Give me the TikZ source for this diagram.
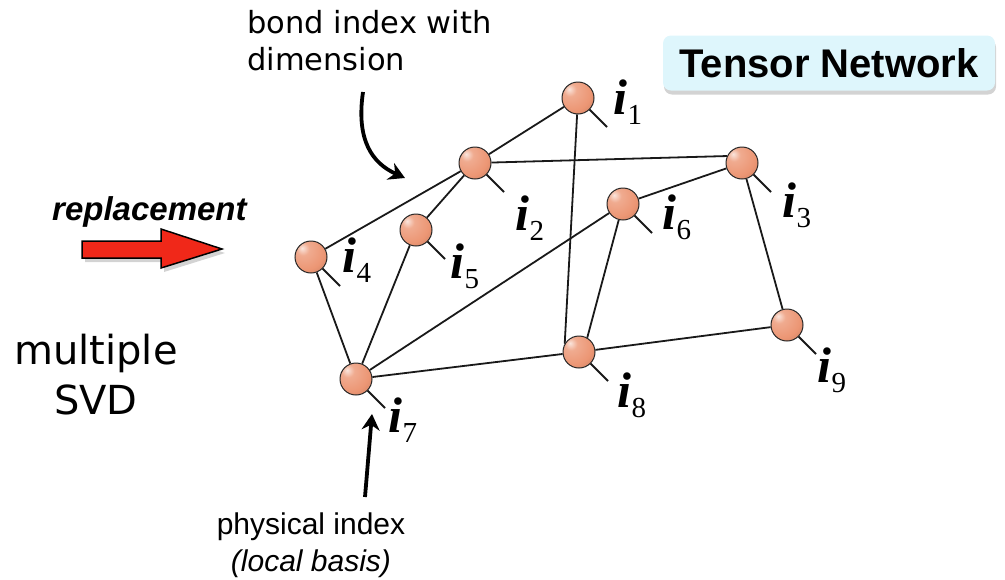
\documentclass[tikz,border=0pt]{standalone}
\usepackage{fontspec}
\setmainfont{Liberation Sans}
\newfontfamily\humfont{DejaVu Sans}
\newfontfamily\idxfont{Liberation Serif}
\usetikzlibrary{calc,backgrounds,shadows,arrows.meta}

\definecolor{ballsalmon}{RGB}{236,150,116}
\definecolor{boxcyan}{RGB}{222,246,252}
\definecolor{arrowred}{RGB}{240,40,25}

\pgfdeclareradialshading{tensorball}{\pgfpoint{-14bp}{14bp}}{%
  color(0bp)=(ballsalmon!25!white); color(10bp)=(ballsalmon!80!white);
  color(30bp)=(ballsalmon); color(55bp)=(ballsalmon!75!black);
  color(100bp)=(ballsalmon!75!black)}

% physical index label i_k
\newcommand{\idx}[1]{{\fontsize{50}{50}\selectfont\bfseries\itshape i}%
  \raisebox{-10pt}{\fontsize{29}{29}\selectfont #1}}

\begin{document}
\begin{tikzpicture}[x=1pt, y=-1pt,
  tensor/.style={circle, minimum size=32pt, inner sep=0pt, draw=black!85,
    line width=1pt, shading=tensorball},
  bond/.style={line width=1.8pt, black!90},
  leg/.style={line width=1.8pt, black!90},
  idxlabel/.style={inner sep=0pt, font=\idxfont},
  note/.style={-{Stealth[length=16pt,width=18pt]}, line width=3.8pt}
]
\useasboundingbox (0,0) rectangle (1005,579);

% tensors
\node[tensor] (n1) at (578,98) {};
\node[tensor] (n2) at (475,163) {};
\node[tensor] (n3) at (742,163) {};
\node[tensor] (n4) at (311,257) {};
\node[tensor] (n5) at (416,230) {};
\node[tensor] (n6) at (623,204) {};
\node[tensor] (n7) at (356,379) {};
\node[tensor] (n8) at (579,352) {};
\node[tensor] (n9) at (787,325) {};

\begin{scope}[on background layer]
  \draw[bond] (n1) -- (n2);
  \draw[bond] (n1) -- (n8.150);
  \draw[bond] (n2) -- (n3.155);
  \draw[bond] (n2) -- (n4);
  \draw[bond] (n2) -- (n5);
  \draw[bond] (n3) -- (n6);
  \draw[bond] (n3) -- (n9);
  \draw[bond] (n4) -- (n7);
  \draw[bond] (n5) -- (n7);
  \draw[bond] (n6) -- (n7);
  \draw[bond] (n6) -- (n8.60);
  \draw[bond] (n7) -- (n8);
  \draw[bond] (n8) -- (n9);
  \foreach \k in {1,...,9} {
    \coordinate (p\k) at ($(n\k)+(29,29)$);
    \draw[leg] (n\k) -- (p\k);
  }
\end{scope}

\node[idxlabel] (l1) at (628,102) {\idx{1}};
\node[idxlabel] (l2) at (530,218) {\idx{2}};
\node[idxlabel] (l3) at (797,205) {\idx{3}};
\node[idxlabel] (l4) at (357,260) {\idx{4}};
\node[idxlabel] (l5) at (465,266) {\idx{5}};
\node[idxlabel] (l6) at (677,217) {\idx{6}};
\node[idxlabel] (l7) at (403,420) {\idx{7}};
\node[idxlabel] (l8) at (632,395) {\idx{8}};
\node[idxlabel] (l9) at (832,370) {\idx{9}};

% title box
\node[fill=boxcyan, rounded corners=8pt, minimum width=332pt, minimum height=55pt,
      drop shadow={shadow xshift=1pt, shadow yshift=-4pt, opacity=0.35},
      font=\bfseries\fontsize{40}{40}\selectfont] (tnbox) at (829,63) {Tensor Network};

% replacement arrow
\node[anchor=base west, inner sep=0pt, font=\bfseries\itshape\fontsize{33}{33}\selectfont]
  (repltxt) at (52,220) {replacement};
\draw[fill=arrowred, line width=1.5pt,
      drop shadow={shadow xshift=3pt, shadow yshift=-4pt, opacity=0.35}]
  (82,241) -- (161,241) -- (161,229) -- (222,249) -- (161,268) -- (161,258) -- (82,258) -- cycle;

\node[font=\humfont\fontsize{40}{50}\selectfont, align=center] (svd) at (96,375) {multiple\\SVD};

% annotations
\node[anchor=north west, inner sep=0pt, align=left, font=\humfont\fontsize{30.5}{37}\selectfont]
  (bondtxt) at (247,10) {bond index with\\dimension};
\coordinate (bondtail) at (363,92);
\coordinate (bondtip) at (405,178);
\draw[note] (bondtail) .. controls (356,140) and (372,163) .. (bondtip);

\node[align=center, font=\fontsize{30}{37}\selectfont] (phys) at (311,545)
  {physical index\\\textit{(local basis)}};
\coordinate (phystail) at (365,497);
\coordinate (phystip) at (372,414);
\draw[note] (phystail) .. controls (368,460) .. (phystip);

\end{tikzpicture}
\end{document}
